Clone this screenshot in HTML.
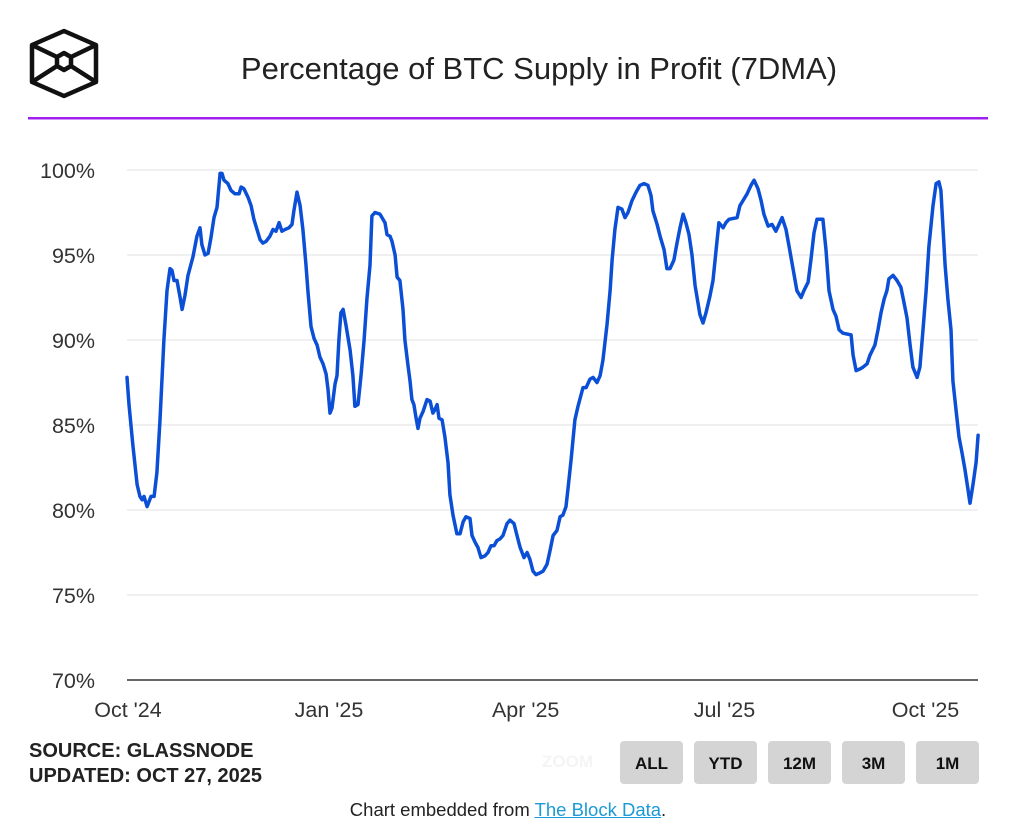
<!DOCTYPE html>
<html><head><meta charset="utf-8">
<style>
html,body{margin:0;padding:0;background:#fff;}
body{width:1016px;height:828px;position:relative;overflow:hidden;font-family:"Liberation Sans",sans-serif;}
.abs{position:absolute;}
.btn{position:absolute;top:741px;width:63px;height:43px;background:#d4d4d4;border-radius:4px;font-weight:bold;font-size:17px;color:#111;text-align:center;line-height:45px;}
</style></head>
<body>
<svg class="abs" style="left:0;top:0" width="1016" height="828">
  <g fill="none" stroke="#111" stroke-width="4.5" stroke-linejoin="round">
    <polygon points="64,31 96,45 96,82 64,96 32,82 32,45"/>
    <polygon points="64,53 71,57 71,66 64,70 57,66 57,57"/>
    <line x1="32" y1="45" x2="57" y2="57"/><line x1="96" y1="45" x2="71" y2="57"/>
    <line x1="32" y1="82" x2="57" y2="66"/><line x1="96" y1="82" x2="71" y2="66"/>
  </g>
  <text x="539" y="79" text-anchor="middle" font-size="31" fill="#222" font-family="Liberation Sans, sans-serif">Percentage of BTC Supply in Profit (7DMA)</text>
  <rect x="28" y="117" width="960" height="2.5" fill="#a020f0"/>
  <g id="grid"></g>
  <g id="yl"></g>
  <g id="xl"></g>
  <path id="line" fill="none" stroke="#0b4fd6" stroke-width="3.5" stroke-linejoin="round" stroke-linecap="round"/>
</svg>
<div class="abs" style="left:29px;top:739px;font-weight:bold;font-size:20px;color:#222;line-height:25px">SOURCE: GLASSNODE<br>UPDATED: OCT 27, 2025</div>
<div class="abs" style="left:542px;top:752px;font-size:17px;font-weight:bold;color:#f4f4f4">ZOOM</div>
<div class="btn" style="left:620px">ALL</div>
<div class="btn" style="left:694px">YTD</div>
<div class="btn" style="left:768px">12M</div>
<div class="btn" style="left:842px">3M</div>
<div class="btn" style="left:916px">1M</div>
<div class="abs" style="left:0;width:1016px;top:799px;text-align:center;font-size:18.5px;color:#222">Chart embedded from <span style="color:#1a9ad6;text-decoration:underline">The Block Data</span>.</div>
<script>
const yTicks=[70,75,80,85,90,95,100];
const yTickLabels=["70%","75%","80%","85%","90%","95%","100%"];
const xTickDays=[0,92,182,273,365];
const xTickLabels=["Oct '24","Jan '25","Apr '25","Jul '25","Oct '25"];
const days=[0,0.9,2.7,4.6,5.9,6.9,7.8,9.2,11,12.4,13.7,15.1,16.9,18.3,19.7,20.6,21.5,22.9,24.3,25.2,26.5,27.9,30.2,32,33.4,34.3,35.7,37.1,38.4,39.8,41.2,42.6,43.5,44.4,46.2,47.6,49.4,51.3,52.2,53.5,55.4,56.8,58.1,59.5,60.9,62.2,63.6,65.4,66.8,68.2,69.6,70.9,72.3,74.1,75.5,76.4,77.8,79.2,80.5,81.9,82.8,84.2,85.6,87,88.3,89.7,91.1,92,92.9,93.8,95.2,96.1,97,97.9,98.9,100.2,102.1,103.4,104.3,105.7,107.1,108.5,109.8,111.2,112.1,113.5,115.8,118.1,119,120.4,121.3,122.7,123.6,124.9,126.3,127.2,128.6,129.5,130.4,131.3,132.3,133.2,134.1,135.5,137.3,138.7,140,140.9,141.9,142.8,144.2,145.5,146.9,147.8,149.2,151,152.4,153.8,155.1,157,157.9,159.3,160.6,162,163.8,165.2,166.6,168,169.3,170.7,172.1,173.9,175.3,177.1,178.5,179.9,181.7,183.1,184.4,185.8,187.2,189,190.4,192.2,193.6,195,196.8,198.2,199.5,200.9,201.8,203.2,205,206.4,208.7,210.1,211.9,213.3,215.1,216.5,217.8,219.7,221.1,222,223.3,224.7,226.5,227.9,229.3,231.1,233,234.8,236.6,238.4,239.8,240.7,242.6,244,245.8,247.1,248.5,250.3,251.7,253.1,254.5,255.8,257.2,258.6,260,262.2,263.6,265,266.8,268.2,269.6,270.9,272.8,274.1,275.5,279.2,280.5,281.9,283.8,285.6,287,288.8,290.2,291.5,293.4,295.2,297,298.4,299.8,301.6,303,304.8,306.6,308.5,309.8,311.7,313,314.4,315.8,318.5,319.9,321.3,323.1,324.5,325.9,327.7,331.4,332.3,333.7,335.5,336.8,338.7,340,342.3,343.7,345.1,346.5,347.8,348.7,350.6,352.4,354.2,355.6,357,358.4,359.7,361.6,362.9,364.3,365.7,367,368.9,370.3,371.6,372.5,373.5,374.4,375.7,377.1,378,379.4,380.8,382.1,383.5,384.9,385.8,387.2,388.6,389.5];
const values=[87.8,86.2,83.8,81.5,80.8,80.6,80.8,80.2,80.8,80.8,82.2,85.3,90,92.9,94.2,94.1,93.5,93.5,92.5,91.8,92.6,93.8,94.9,96.1,96.6,95.6,95,95.1,96,97.2,97.8,99.8,99.8,99.4,99.2,98.8,98.6,98.6,99,98.9,98.4,97.9,97.1,96.5,95.9,95.7,95.8,96.1,96.5,96.4,96.9,96.4,96.5,96.6,96.8,97.6,98.7,97.9,96.5,94.4,92.9,90.8,90.1,89.7,89,88.6,88,87.1,85.7,86,87.4,87.9,90,91.6,91.8,90.9,89.4,87.9,86.1,86.2,87.9,90,92.4,94.4,97.3,97.5,97.4,96.9,96.2,96.1,95.8,95,93.7,93.5,91.8,90,88.5,87.6,86.5,86.2,85.4,84.8,85.4,85.8,86.5,86.4,85.7,85.9,86.2,85.4,85.3,84.3,82.8,80.9,79.7,78.6,78.6,79.3,79.6,79.5,78.5,78.1,77.8,77.2,77.3,77.5,77.9,77.9,78.2,78.3,78.5,79.2,79.4,79.2,78.5,77.8,77.2,77.5,77.1,76.4,76.2,76.3,76.4,76.8,77.6,78.5,78.8,79.6,79.7,80.2,81.2,82.9,85.3,86.1,87.2,87.2,87.7,87.8,87.5,87.9,88.8,90.9,92.9,94.7,96.5,97.8,97.7,97.2,97.5,98.2,98.7,99.1,99.2,99.1,98.5,97.6,96.8,96.1,95.3,94.2,94.2,94.7,95.7,96.6,97.4,96.9,96.2,95,93.2,91.5,91,91.6,92.6,93.5,95.3,96.9,96.6,96.9,97.1,97.2,97.9,98.2,98.6,99.1,99.4,98.9,98.2,97.4,96.7,96.8,96.4,96.8,97.2,96.5,95.5,94.2,92.9,92.5,92.9,93.4,94.7,96.3,97.1,97.1,95.3,92.9,91.8,91.4,90.6,90.4,90.3,89.1,88.2,88.3,88.4,88.6,89.1,89.7,90.6,91.6,92.4,92.9,93.6,93.8,93.5,93.1,92.2,91.3,89.7,88.4,87.8,88.4,90.6,92.9,95.5,97.9,99.2,99.3,98.8,96.5,94.4,92.4,90.6,87.6,85.9,84.3,83.4,82.4,81.2,80.4,81.5,82.8,84.4];
const X0=127,PXD=2.185;
const xs=d=>X0+d*PXD;
const ys=v=>170+(100-v)*17;
const NS="http://www.w3.org/2000/svg";
const grid=document.getElementById('grid'),yl=document.getElementById('yl'),xl=document.getElementById('xl');
yTicks.forEach((t,i)=>{
  const l=document.createElementNS(NS,'line');
  l.setAttribute('x1',127);l.setAttribute('x2',978);
  l.setAttribute('y1',ys(t));l.setAttribute('y2',ys(t));
  l.setAttribute('stroke',t===70?'#333':'#e6e6e6');l.setAttribute('stroke-width',t===70?1.5:1.2);
  
  
  grid.appendChild(l);
  const tx=document.createElementNS(NS,'text');
  tx.setAttribute('x',95);tx.setAttribute('y',ys(t)+8);
  tx.setAttribute('text-anchor','end');tx.setAttribute('font-size','21.5');tx.setAttribute('fill','#333');
  tx.textContent=yTickLabels[i];
  
  
  yl.appendChild(tx);
});
xTickDays.forEach((d,i)=>{
  const tx=document.createElementNS(NS,'text');
  tx.setAttribute('x',xs(d)+1);tx.setAttribute('y',717);
  tx.setAttribute('text-anchor','middle');tx.setAttribute('font-size','21.5');tx.setAttribute('fill','#333');
  tx.textContent=xTickLabels[i];
  
  
  xl.appendChild(tx);
});
document.getElementById('line').setAttribute('d',days.map((d,i)=>(i?'L':'M')+xs(d).toFixed(1)+','+ys(values[i]).toFixed(1)).join(''));
</script>
</body></html>
